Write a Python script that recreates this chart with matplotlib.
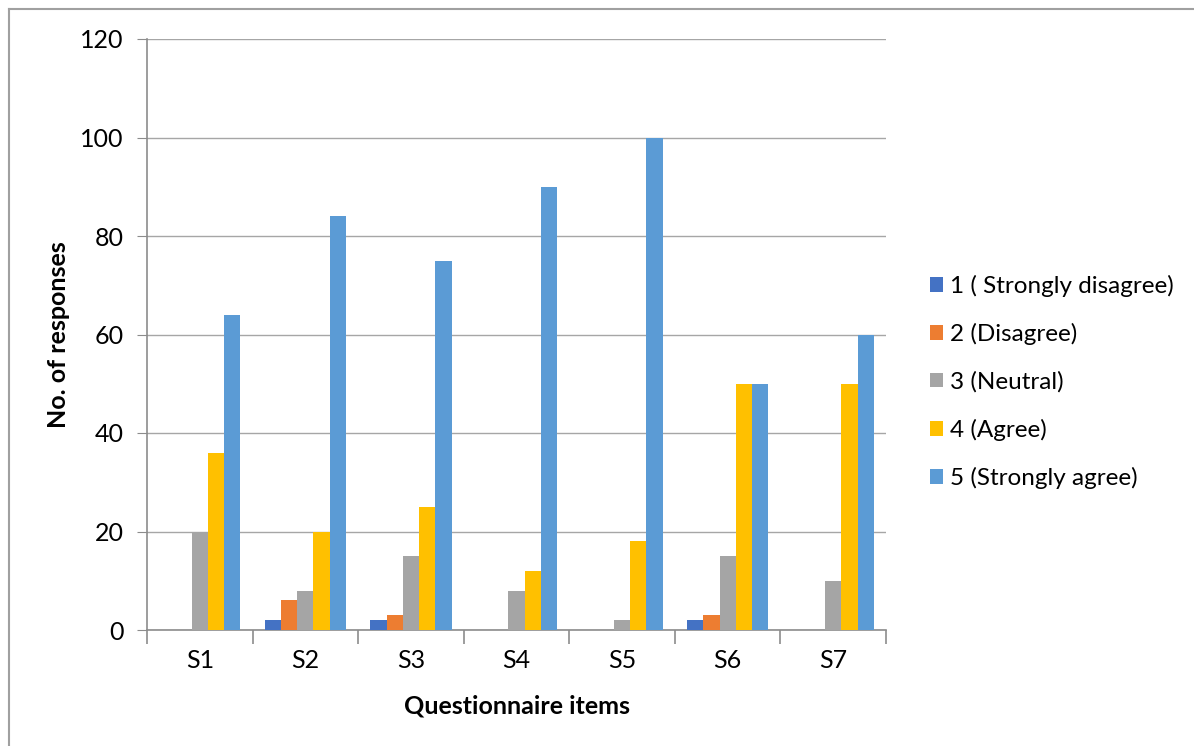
import matplotlib
matplotlib.use("Agg")
import matplotlib.pyplot as plt
import numpy as np
from matplotlib.lines import Line2D

plt.rcParams['font.family'] = ['Lato', 'DejaVu Sans']

items = ["S1", "S2", "S3", "S4", "S5", "S6", "S7"]
series_names = ["1 ( Strongly disagree)", "2 (Disagree)", "3 (Neutral)",
                "4 (Agree)", "5 (Strongly agree)"]
strongly_disagree = [0, 2, 2, 0, 0, 2, 0]
disagree = [0, 6, 3, 0, 0, 3, 0]
neutral = [20, 8, 15, 8, 2, 15, 10]
agree = [36, 20, 25, 12, 18, 50, 50]
strongly_agree = [64, 84, 75, 90, 100, 50, 60]
y_ticks = [0, 20, 40, 60, 80, 100, 120]

colors = ["#4472C4", "#ED7D31", "#A5A5A5", "#FFC000", "#5B9BD5"]
series = [strongly_disagree, disagree, neutral, agree, strongly_agree]

W, H = 1194, 746
fig = plt.figure(figsize=(W / 100, H / 100), dpi=100)
ax = fig.add_axes([147 / W, (H - 630) / H, (886 - 147) / W, (630 - 39) / H])

n = len(series)
x = np.arange(len(items))
bw = 1 / 6.5
for i, (vals, c, name) in enumerate(zip(series, colors, series_names)):
    offs = (i - (n - 1) / 2) * bw
    ax.bar(x + offs, vals, width=bw, color=c, label=name, zorder=3,
           linewidth=0)

ax.set_xlim(-0.5, len(items) - 0.5)
ax.set_ylim(0, 120)
ax.set_yticks(y_ticks)
ax.set_yticklabels([str(v) for v in y_ticks])
ax.set_xticks(x)
ax.set_xticklabels(items)
ax.set_xticks(np.arange(-0.5, len(items)), minor=True)

grid_c = "#A6A6A6"
ax.yaxis.grid(True, color=grid_c, linewidth=1.0, zorder=0)
ax.set_axisbelow(True)
for s in ["top", "right"]:
    ax.spines[s].set_visible(False)
for s in ["left", "bottom"]:
    ax.spines[s].set_color("#8C8C8C")
    ax.spines[s].set_linewidth(1.2)

fs = 18
ax.tick_params(axis="y", length=7, color="#8C8C8C", labelsize=fs, pad=10,
               labelcolor="black")
ax.tick_params(axis="x", which="major", length=0, labelsize=fs, pad=14,
               labelcolor="black")
ax.tick_params(axis="x", which="minor", length=10, color="#8C8C8C", width=1.2)

ax.set_ylabel("No. of responses", fontsize=fs, fontweight="bold", labelpad=7)
ax.set_xlabel("Questionnaire items", fontsize=fs, fontweight="bold", labelpad=16)

leg = fig.legend(loc="center left", bbox_to_anchor=(920 / W, (H - 382) / H),
                 frameon=False, fontsize=17.5, handlelength=0.55, handleheight=0.55,
                 handletextpad=0.3, labelspacing=1.07, borderaxespad=0)

# chart frame
fig.add_artist(Line2D([9 / W, 9 / W], [0, 1 - 9 / H], transform=fig.transFigure,
                      color="#A0A0A0", linewidth=1.5))
fig.add_artist(Line2D([9 / W, 1], [1 - 9 / H, 1 - 9 / H], transform=fig.transFigure,
                      color="#A0A0A0", linewidth=1.5))

fig.savefig("out.png", dpi=100)
